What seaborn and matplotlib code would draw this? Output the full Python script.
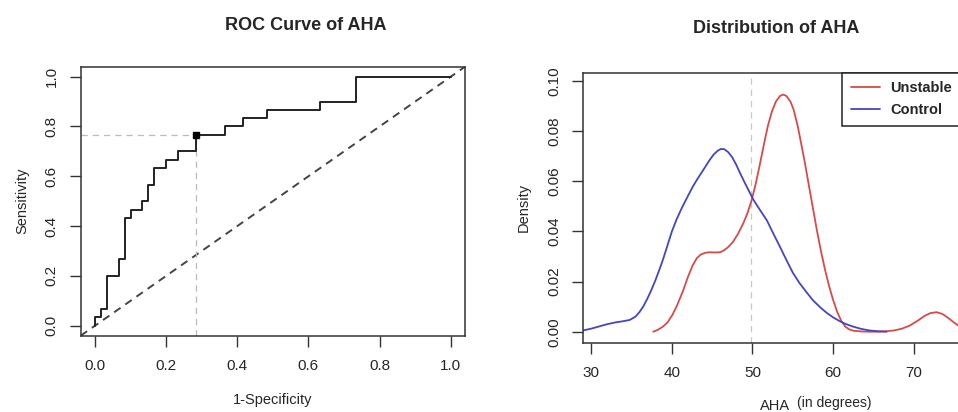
import numpy as np
import pandas as pd
import matplotlib
matplotlib.use("Agg")
import matplotlib.pyplot as plt
from matplotlib.lines import Line2D
import seaborn as sns

# ROC curve (step points, 30 unstable / 60 control)
fpr = np.array([0, 1, 2, 4, 5, 6, 8, 9, 10, 12, 14, 17, 22, 25, 29, 38, 44, 60]) / 60
tpr = np.array([0, 1, 2, 6, 8, 13, 14, 15, 17, 19, 20, 21, 23, 24, 25, 26, 27, 30]) / 30
best_fpr = 17 / 60
best_tpr = 23 / 30

# density curves
control_x = [29.0, 30.0, 31.0, 32.0, 33.0, 34.0, 34.8, 35.5, 36.0, 36.5, 37.0, 37.5,
             38.0, 38.5, 38.9, 39.5, 40.0, 40.6, 41.3, 42.0, 42.6, 43.1, 43.6, 44.2,
             44.7, 45.2, 45.7, 46.1, 46.5, 47.0, 47.5, 48.0, 48.5, 49.0, 49.5, 50.1,
             50.9, 51.8, 52.6, 53.4, 54.2, 55.0, 55.8, 56.7, 57.5, 58.4, 59.2, 60.0,
             60.8, 61.6, 62.5, 63.5, 64.5, 65.5, 66.6]
control_y = [0.0005, 0.0012, 0.0021, 0.003, 0.0037, 0.0042, 0.0047, 0.006, 0.0078,
             0.0102, 0.0133, 0.0168, 0.0207, 0.025, 0.0286, 0.0347, 0.0398, 0.0448,
             0.0497, 0.0541, 0.0578, 0.0605, 0.063, 0.066, 0.0685, 0.0707, 0.0722,
             0.0729, 0.0728, 0.0716, 0.0695, 0.0665, 0.063, 0.0597, 0.0565, 0.0527,
             0.0487, 0.0443, 0.039, 0.0339, 0.0286, 0.0235, 0.0195, 0.0157, 0.0125,
             0.0097, 0.0075, 0.0057, 0.0042, 0.003, 0.002, 0.0011, 0.0005, 0.0002, 0.0]
unstable_x = [37.7, 38.3, 38.9, 39.5, 40.1, 40.7, 41.4, 42.0, 42.6, 43.1, 43.6, 44.2,
              44.7, 45.3, 46.0, 46.5, 47.0, 47.6, 48.2, 48.9, 49.4, 49.9, 50.4, 50.9,
              51.4, 51.9, 52.4, 52.9, 53.4, 53.8, 54.2, 54.7, 55.1, 55.6, 56.0, 56.5,
              57.0, 57.5, 58.0, 58.5, 59.0, 59.5, 60.0, 60.5, 61.0, 61.5, 62.0, 62.5,
              63.5, 64.5, 65.5, 66.6, 67.5, 68.5, 69.5, 70.5, 71.3, 72.0, 72.8, 73.5,
              74.2, 74.9, 75.5, 76.0]
unstable_y = [0.0, 0.0008, 0.002, 0.0038, 0.0068, 0.0108, 0.0163, 0.0218, 0.0265,
              0.0293, 0.0308, 0.0315, 0.0317, 0.0316, 0.0317, 0.0325, 0.0338, 0.0359,
              0.039, 0.0435, 0.0475, 0.0525, 0.059, 0.0665, 0.0745, 0.082, 0.0878,
              0.0918, 0.094, 0.0946, 0.094, 0.0918, 0.0885, 0.082, 0.0755, 0.0672,
              0.058, 0.049, 0.04, 0.0318, 0.0245, 0.018, 0.0125, 0.0078, 0.0043, 0.002,
              0.0009, 0.0004, 0.0001, 0.0, 0.0, 0.0002, 0.0005, 0.0012, 0.0025, 0.0045,
              0.0063, 0.0074, 0.0078, 0.0071, 0.0056, 0.0038, 0.0024, 0.0015]
cutoff = 49.8

sns.set_theme(style="white")
plt.rcParams['font.family'] = ['Liberation Sans', 'DejaVu Sans']
plt.rcParams['axes.edgecolor'] = '#333333'
plt.rcParams['axes.linewidth'] = 1.1

red = '#D84A4A'
blue = '#4545C2'

fig = plt.figure(figsize=(9.58, 4.12), dpi=100)
ax1 = fig.add_axes([80.7 / 958, 1 - 335.7 / 412, (465 - 80.7) / 958, (335.7 - 66.7) / 412])
ax2 = fig.add_axes([583.3 / 958, 1 - 342.5 / 412, (961 - 583.3) / 958, (342.5 - 72.7) / 412])

# ---- ROC ----
roc = pd.DataFrame({"fpr": fpr, "tpr": tpr})
ax1.axline((0, 0), slope=1, color='#444444', lw=1.4, dashes=(4, 3))
ax1.plot([-0.04, best_fpr], [best_tpr, best_tpr], color='#bbbbbb', lw=0.9, dashes=(5, 4))
ax1.plot([best_fpr, best_fpr], [-0.04, best_tpr], color='#bbbbbb', lw=0.9, dashes=(5, 4))
sns.lineplot(data=roc, x="fpr", y="tpr", ax=ax1, estimator=None, sort=False,
             drawstyle='steps-pre', color='#222222', lw=1.4)
ax1.plot([best_fpr], [best_tpr], marker='s', color='black', ms=4.5)
ax1.set_xlim(-0.04, 1.04)
ax1.set_ylim(-0.04, 1.04)
ax1.set_xticks(np.arange(0, 1.01, 0.2))
ax1.set_yticks(np.arange(0, 1.01, 0.2))
ax1.set_xticklabels([f"{v:.1f}" for v in np.arange(0, 1.01, 0.2)])
ax1.set_yticklabels([f"{v:.1f}" for v in np.arange(0, 1.01, 0.2)], rotation=90, va='center')
ax1.set_xlabel("1-Specificity", fontsize=10.5, labelpad=14)
ax1.set_ylabel("Sensitivity", fontsize=10.5, labelpad=11)

# ---- density ----
ax2.axvline(cutoff, color='#c8c8c8', lw=0.9, dashes=(5, 4))
sns.lineplot(x=unstable_x, y=unstable_y, ax=ax2, estimator=None, sort=False, color=red, lw=1.3)
sns.lineplot(x=control_x, y=control_y, ax=ax2, estimator=None, sort=False, color=blue, lw=1.3)
ax2.set_xlim(29.05, 75.82)
ax2.set_ylim(-0.0043, 0.1033)
ax2.set_xticks([30, 40, 50, 60, 70])
ax2.set_yticks([0, 0.02, 0.04, 0.06, 0.08, 0.10])
ax2.set_yticklabels(["0.00", "0.02", "0.04", "0.06", "0.08", "0.10"], rotation=90, va='center')
ax2.set_ylabel("Density", fontsize=10.5, labelpad=12)
ax2.set_xlabel("")
handles = [Line2D([0], [0], color=red, lw=1.3), Line2D([0], [0], color=blue, lw=1.3)]
leg = ax2.legend(handles, ["Unstable", "Control"], loc='upper right', fancybox=False,
                 framealpha=1, edgecolor='#222222', prop={'weight': 'bold', 'size': 10.5},
                 borderaxespad=0, handlelength=2.0, handletextpad=0.7, borderpad=0.6,
                 labelspacing=0.55)
leg.get_frame().set_linewidth(1.1)

for ax in (ax1, ax2):
    ax.tick_params(axis='both', direction='out', length=8, width=1, color='#333333',
                   labelsize=11, left=True, bottom=True)
    ax.tick_params(axis='y', pad=8)
    ax.tick_params(axis='x', pad=9)
    for s in ax.spines.values():
        s.set_visible(True)

fig.text(306 / 958, 1 - 30 / 412, "ROC Curve of AHA", ha='center', va='baseline',
         fontsize=13, fontweight='bold')
fig.text(776 / 958, 1 - 33 / 412, "Distribution of AHA", ha='center', va='baseline',
         fontsize=13, fontweight='bold')
fig.text(790 / 958, 1 - 410 / 412, "AHA", ha='right', va='baseline', fontsize=10.5)
fig.text(797 / 958, 1 - 407 / 412, "(in degrees)", ha='left', va='baseline', fontsize=10)

fig.savefig("out.png", dpi=100)
